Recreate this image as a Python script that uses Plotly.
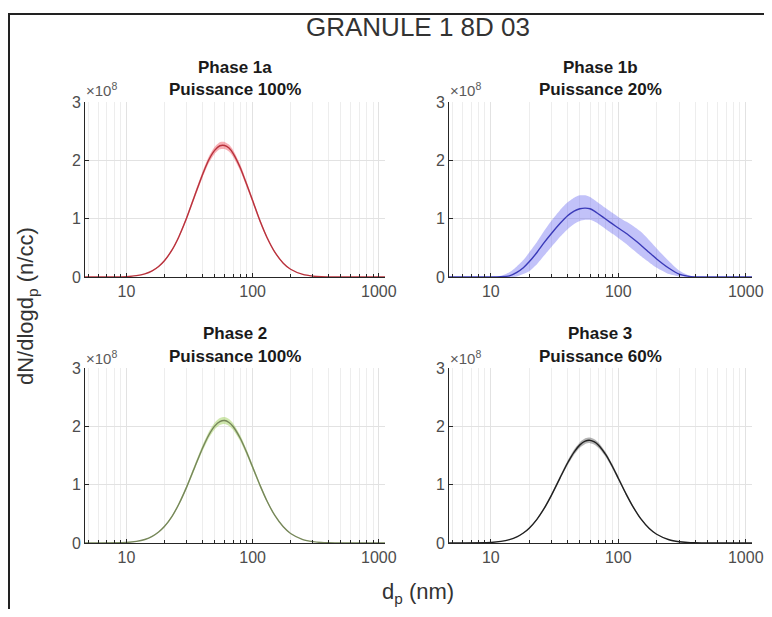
import plotly.graph_objects as go

# ---------------- data (dN/dlogdp in units of 1e8 #/cc) ----------------
dp_nm = [4.7, 10, 12, 14, 16, 18, 20, 23, 26, 30, 35, 40, 45, 50, 55, 60, 65, 70,
         80, 90, 100, 115, 130, 150, 175, 200, 250, 300, 350, 400, 500, 700, 1000, 1120]

phase1a_mean = [0, 0.007, 0.023, 0.054, 0.105, 0.18, 0.278, 0.464, 0.687, 1.01, 1.41, 1.75,
                2.01, 2.17, 2.25, 2.255, 2.21, 2.12, 1.87, 1.58, 1.31, 0.95, 0.678, 0.426,
                0.237, 0.133, 0.044, 0.015, 0.005, 0.002, 0, 0, 0, 0]
phase1a_std = [0, 0, 0.001, 0.003, 0.005, 0.008, 0.012, 0.018, 0.025, 0.034, 0.043, 0.051,
               0.057, 0.06, 0.061, 0.061, 0.06, 0.058, 0.053, 0.047, 0.04, 0.031, 0.023,
               0.015, 0.009, 0.005, 0.002, 0, 0, 0, 0, 0, 0, 0]

phase1b_mean = [0, 0, 0.005, 0.02, 0.08, 0.16, 0.26, 0.42, 0.58, 0.75, 0.92, 1.05, 1.13,
                1.17, 1.18, 1.17, 1.13, 1.08, 0.99, 0.91, 0.84, 0.75, 0.66, 0.55, 0.42,
                0.31, 0.15, 0.05, 0.015, 0.003, 0, 0, 0, 0]
phase1b_upper = [0, 0, 0.02, 0.08, 0.18, 0.29, 0.42, 0.6, 0.78, 0.97, 1.15, 1.28, 1.36,
                 1.40, 1.40, 1.37, 1.32, 1.27, 1.18, 1.10, 1.03, 0.95, 0.88, 0.78, 0.63,
                 0.49, 0.27, 0.11, 0.035, 0.008, 0, 0, 0, 0]
phase1b_lower = [0, 0, 0, 0, 0.01, 0.05, 0.1, 0.22, 0.36, 0.52, 0.69, 0.82, 0.91, 0.96,
                 0.98, 0.98, 0.95, 0.91, 0.82, 0.74, 0.67, 0.57, 0.47, 0.36, 0.25, 0.16,
                 0.05, 0.01, 0, 0, 0, 0, 0, 0]

phase2_mean = [0, 0.009, 0.027, 0.06, 0.113, 0.188, 0.282, 0.458, 0.664, 0.958, 1.316,
               1.621, 1.852, 2.004, 2.082, 2.099, 2.066, 1.997, 1.791, 1.547, 1.303, 0.979,
               0.72, 0.472, 0.277, 0.163, 0.059, 0.023, 0.009, 0.004, 0, 0, 0, 0]
phase2_std = [0, 0, 0.001, 0.003, 0.005, 0.008, 0.012, 0.018, 0.025, 0.033, 0.042, 0.05,
              0.055, 0.058, 0.06, 0.06, 0.059, 0.057, 0.052, 0.046, 0.039, 0.03, 0.022,
              0.015, 0.009, 0.005, 0.002, 0, 0, 0, 0, 0, 0, 0]

phase3_mean = [0, 0.01, 0.027, 0.058, 0.105, 0.171, 0.254, 0.406, 0.58, 0.826, 1.121, 1.371,
               1.559, 1.682, 1.746, 1.76, 1.733, 1.677, 1.51, 1.311, 1.111, 0.843, 0.628,
               0.417, 0.249, 0.15, 0.056, 0.022, 0.009, 0.004, 0, 0, 0, 0]
phase3_std = [0, 0, 0.001, 0.002, 0.004, 0.007, 0.01, 0.015, 0.02, 0.027, 0.034, 0.04,
              0.044, 0.047, 0.048, 0.048, 0.047, 0.046, 0.042, 0.037, 0.032, 0.025, 0.019,
              0.013, 0.008, 0.005, 0.002, 0, 0, 0, 0, 0, 0, 0]

panel_titles = [("Phase 1a", "Puissance 100%"), ("Phase 1b", "Puissance 20%"),
                ("Phase 2", "Puissance 100%"), ("Phase 3", "Puissance 60%")]
main_title = "GRANULE 1 8D 03"
y_ticks = [0, 1, 2, 3]

# ---------------- layout geometry (reference pixels; page body adds an 8px margin) ----------------
OFF = 8
W, H = 756, 601
L, R, T, B = 85, 752, 102, 543          # plot block in reference pixels
PW, PH = R - L, B - T


def px(xr):
    return (xr - L) / PW


def py(yr):
    return (B - yr) / PH


col_dom = [[px(85), px(385)], [px(449), px(752)]]
row_dom = [[py(277), py(102)], [py(543), py(368)]]

panels = [
    dict(mean=phase1a_mean, up=[m + s for m, s in zip(phase1a_mean, phase1a_std)],
         lo=[m - s for m, s in zip(phase1a_mean, phase1a_std)],
         line="#b8323c", fill="rgba(240,110,120,0.55)", col=0, row=0),
    dict(mean=phase1b_mean, up=phase1b_upper, lo=phase1b_lower,
         line="#3a3ab8", fill="rgba(110,110,240,0.42)", col=1, row=0),
    dict(mean=phase2_mean, up=[m + s for m, s in zip(phase2_mean, phase2_std)],
         lo=[m - s for m, s in zip(phase2_mean, phase2_std)],
         line="#76865a", fill="rgba(175,215,120,0.6)", col=0, row=1),
    dict(mean=phase3_mean, up=[m + s for m, s in zip(phase3_mean, phase3_std)],
         lo=[m - s for m, s in zip(phase3_mean, phase3_std)],
         line="#202020", fill="rgba(90,90,90,0.45)", col=1, row=1),
]

FONT = "Liberation Sans, Arial, sans-serif"
fig = go.Figure()
annotations = []
tick_font = dict(family=FONT, size=16, color="#4d4d4d")

for i, p in enumerate(panels):
    xa = "x" if i == 0 else f"x{i+1}"
    ya = "y" if i == 0 else f"y{i+1}"
    fig.add_trace(go.Scatter(x=dp_nm, y=p["lo"], mode="lines",
                             line=dict(width=0, shape="spline", smoothing=0.6),
                             xaxis=xa, yaxis=ya, showlegend=False, hoverinfo="skip"))
    fig.add_trace(go.Scatter(x=dp_nm, y=p["up"], mode="lines",
                             line=dict(width=0, shape="spline", smoothing=0.6),
                             fill="tonexty", fillcolor=p["fill"], xaxis=xa, yaxis=ya,
                             showlegend=False, hoverinfo="skip"))
    fig.add_trace(go.Scatter(x=dp_nm, y=p["mean"], mode="lines",
                             line=dict(color=p["line"], width=1.4, shape="spline", smoothing=0.6),
                             xaxis=xa, yaxis=ya, showlegend=False))

    ax_common = dict(showline=True, linecolor="#262626", linewidth=1, mirror=False,
                     ticks="inside", ticklen=4, tickcolor="#262626", tickfont=tick_font,
                     showgrid=True, gridcolor="#e2e2e2", gridwidth=1, zeroline=False,
                     automargin=False)
    xkey = "xaxis" if i == 0 else f"xaxis{i+1}"
    ykey = "yaxis" if i == 0 else f"yaxis{i+1}"
    fig.update_layout(**{
        xkey: dict(type="log", range=[0.672, 3.049], domain=col_dom[p["col"]], anchor=ya,
                   dtick=1, exponentformat="none",
                   minor=dict(dtick="D1", ticks="inside", ticklen=3, tickcolor="#262626",
                              showgrid=True, gridcolor="#ededed", gridwidth=1),
                   **ax_common),
        ykey: dict(range=[0, 3], domain=row_dom[p["row"]], anchor=xa, tickvals=y_ticks,
                   **ax_common),
    })

    # panel titles
    cx = [235, 600][p["col"]]
    ty = [(67, 90), (333, 356)][p["row"]]
    for txt, yy in zip(panel_titles[i], ty):
        annotations.append(dict(text=f"<b>{txt}</b>", x=px(cx), y=py(yy), xref="paper", yref="paper",
                                showarrow=False, xanchor="center", yanchor="middle",
                                font=dict(family=FONT, size=17, color="#1a1a1a")))
    # exponent label
    ex = [84, 448][p["col"]]
    ey = [90, 357][p["row"]]
    annotations.append(dict(text="×10<sup>8</sup>", x=px(ex), y=py(ey), xref="paper", yref="paper",
                            showarrow=False, xanchor="left", yanchor="middle",
                            font=dict(family=FONT, size=15, color="#5a5a5a")))

annotations.append(dict(text=main_title, x=px(418), y=py(27), xref="paper", yref="paper",
                        showarrow=False, xanchor="center", yanchor="middle",
                        font=dict(family=FONT, size=26, color="#333333")))
annotations.append(dict(text="d<sub>p</sub> (nm)", x=px(418), y=py(593), xref="paper", yref="paper",
                        showarrow=False, xanchor="center", yanchor="middle",
                        font=dict(family=FONT, size=22, color="#333333")))
annotations.append(dict(text="dN/dlogd<sub>p</sub> (n/cc)", x=px(27), y=py(306), xref="paper",
                        yref="paper", showarrow=False, xanchor="center", yanchor="middle",
                        textangle=-90, font=dict(family=FONT, size=22, color="#333333")))

shapes = [
    dict(type="line", xref="paper", yref="paper", x0=px(9), x1=px(9), y0=py(14), y1=py(640),
         line=dict(color="#222222", width=2)),
    dict(type="line", xref="paper", yref="paper", x0=px(8), x1=px(800), y0=py(14), y1=py(14),
         line=dict(color="#222222", width=2)),
]

fig.update_layout(width=W, height=H,
                  margin=dict(l=L - OFF, r=W - (R - OFF), t=T - OFF, b=H - (B - OFF)),
                  paper_bgcolor="white", plot_bgcolor="white",
                  annotations=annotations, shapes=shapes, showlegend=False)

fig.write_html("out.html")
